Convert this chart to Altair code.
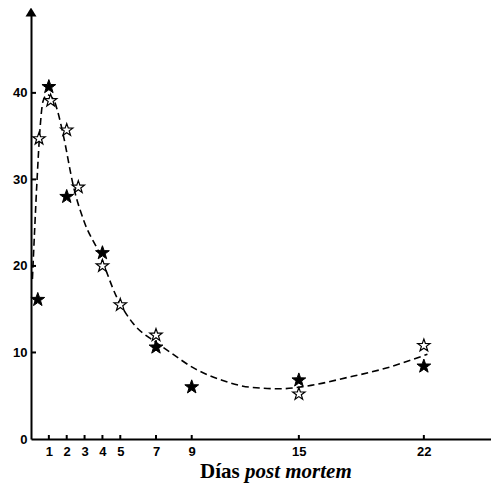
import altair as alt
import pandas as pd

# ---- data ----
filled_days = [0.38, 1.0, 2.0, 4.0, 7.0, 9.0, 15.0, 22.0]
filled_vals = [16.1, 40.7, 28.0, 21.5, 10.6, 6.0, 6.8, 8.4]

hollow_days = [0.45, 1.1, 2.0, 2.65, 4.0, 5.0, 7.0, 15.0, 22.0]
hollow_vals = [34.7, 39.1, 35.7, 29.1, 20.0, 15.5, 12.0, 5.2, 10.8]

curve_days = [0.08, 0.2, 0.34, 0.5, 0.67, 0.9, 1.25, 1.5, 1.8, 2.4, 3.0, 3.8,
              4.8, 5.7, 6.9, 7.6, 9.2, 10.7, 12.2, 14.0, 15.4, 17.7, 19.9, 22.2]
curve_vals = [18.5, 24.0, 30.0, 35.7, 39.0, 39.8, 39.3, 37.8, 35.2, 29.0, 25.0, 21.6,
              16.4, 13.4, 11.3, 10.3, 8.1, 6.8, 6.0, 5.8, 6.1, 7.1, 8.2, 9.8]

x_ticks = [1, 2, 3, 4, 5, 7, 9, 15, 22]
y_ticks = [0, 10, 20, 30, 40]

title_main = "Días"
title_ital = "post mortem"

# ---- layout ----
W, H = 460, 424
x_scale = alt.Scale(domain=[0, 25.76], nice=False, zero=False)
y_scale = alt.Scale(domain=[0, 49], nice=False, zero=False)

x_axis = alt.Axis(values=x_ticks, ticks=False, grid=False, domainColor="black",
                  domainWidth=2, labelFont="Liberation Sans", labelFontSize=13,
                  labelFontWeight="bold", labelColor="black", labelPadding=6,
                  labelFlush=False, labelOverlap=False, title=None)
y_axis = alt.Axis(values=y_ticks, ticks=False, grid=False, domainColor="black",
                  domainWidth=2, labelFont="Liberation Sans", labelFontSize=13,
                  labelFontWeight="bold", labelColor="black", labelPadding=4,
                  labelFlush=False, labelOverlap=False, title=None)

def X(field):
    return alt.X(f"{field}:Q", scale=x_scale, axis=x_axis)

def Y(field):
    return alt.Y(f"{field}:Q", scale=y_scale, axis=y_axis)

STAR = ("M0,-1L0.235,-0.324L0.951,-0.309L0.380,0.124L0.588,0.809L0,0.4"
        "L-0.588,0.809L-0.380,0.124L-0.951,-0.309L-0.235,-0.324Z")
ARROW = "M0,-0.8L1,0.8L-1,0.8Z"

curve_df = pd.DataFrame({"d": curve_days, "v": curve_vals})
filled_df = pd.DataFrame({"d": filled_days, "v": filled_vals})
hollow_df = pd.DataFrame({"d": hollow_days, "v": hollow_vals})
xt_df = pd.DataFrame({"d": x_ticks})
yt_df = pd.DataFrame({"v": [t for t in y_ticks if t > 0]})

curve = alt.Chart(curve_df).mark_line(
    color="black", strokeWidth=1.6, strokeDash=[7, 4], interpolate="monotone"
).encode(x=X("d"), y=Y("v"))

hollow = alt.Chart(hollow_df).mark_point(
    shape=STAR, size=170, filled=True, fill="white", stroke="black",
    strokeWidth=1.2, opacity=1
).encode(x=X("d"), y=Y("v"))

filled = alt.Chart(filled_df).mark_point(
    shape=STAR, size=210, filled=True, fill="black", stroke="black",
    strokeWidth=1, opacity=1
).encode(x=X("d"), y=Y("v"))

xticks = alt.Chart(xt_df).mark_rule(color="black", strokeWidth=2).encode(
    x=X("d"), y=alt.value(H), y2=alt.value(H - 4))

yticks = alt.Chart(yt_df).mark_rule(color="black", strokeWidth=2).encode(
    y=Y("v"), x=alt.value(0), x2=alt.value(5))

arrow = alt.Chart(pd.DataFrame({"a": [0]})).mark_point(
    shape=ARROW, size=121, filled=True, color="black", opacity=1
).encode(x=alt.value(0), y=alt.value(-3))

t1 = alt.Chart(pd.DataFrame({"t": [title_main]})).mark_text(
    font="Liberation Serif", fontSize=21, fontWeight="bold", align="left",
    baseline="alphabetic", color="black"
).encode(text="t:N", x=alt.value(169), y=alt.value(463))

t2 = alt.Chart(pd.DataFrame({"t": [title_ital]})).mark_text(
    font="Liberation Serif", fontSize=21, fontWeight="bold", fontStyle="italic",
    align="left", baseline="alphabetic", color="black"
).encode(text="t:N", x=alt.value(214), y=alt.value(463))

chart = alt.layer(curve, hollow, filled, xticks, yticks, arrow, t1, t2).properties(
    width=W, height=H,
    autosize=alt.AutoSizeParams(type="none"),
    padding={"left": 23, "top": 7, "right": 0, "bottom": 44},
    background="white",
).configure_view(stroke=None)

chart.save("out.html", embed_options={"renderer": "svg", "actions": False})
